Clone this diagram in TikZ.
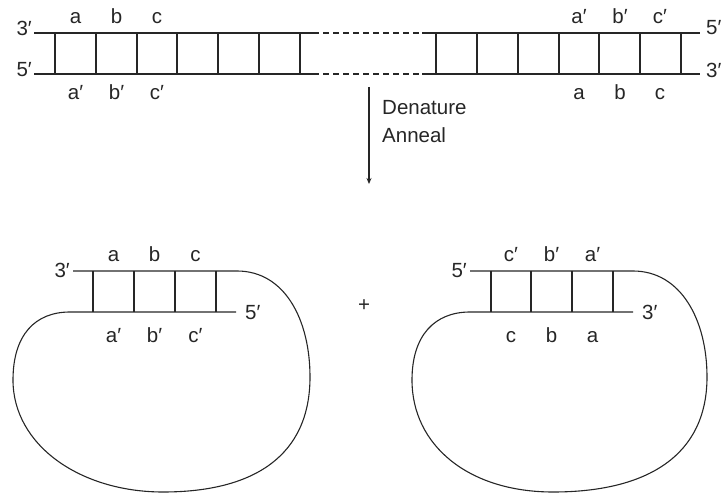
\documentclass[tikz,border=0pt]{standalone}
\usepackage{fontspec}
\setmainfont{Liberation Sans}
\usetikzlibrary{arrows.meta}
\begin{document}
\begin{tikzpicture}[x=1pt,y=-1pt,
  strand/.style={line width=1.1pt, draw=black!85},
  lbl/.style={font=\fontsize{20.5}{24}\selectfont, inner sep=0pt, text=black!85}]
\useasboundingbox (0,0) rectangle (723,494);
% ---------- top duplex ----------
\foreach \y in {33,74}{
  \draw[strand] (34,\y) -- (313,\y);
  \draw[strand, dash pattern=on 6pt off 4pt] (313,\y) -- (422,\y);
  \draw[strand] (422,\y) -- (700,\y);
}
\foreach \x in {55,96,137,177,218,259,300,436,477,518,559,599,640,681}
  \draw[strand] (\x,33) -- (\x,74);
\node[lbl, anchor=east] (t3) at (32,28) {3′};
\node[lbl, anchor=east] (t5) at (32,70) {5′};
\node[lbl, anchor=west] (r5) at (706,28) {5′};
\node[lbl, anchor=west] (r3) at (706,70) {3′};
\node[lbl, anchor=base] (ta) at (75.5,24) {a};
\node[lbl, anchor=base] (tb) at (116.5,24) {b};
\node[lbl, anchor=base] (tc) at (157,24) {c};
\node[lbl, anchor=base] (tap) at (75.5,100) {a′};
\node[lbl, anchor=base] (tbp) at (116.5,100) {b′};
\node[lbl, anchor=base] (tcp) at (157,100) {c′};
\node[lbl, anchor=base] (rap) at (579,24) {a′};
\node[lbl, anchor=base] (rbp) at (620,24) {b′};
\node[lbl, anchor=base] (rcp) at (660,24) {c′};
\node[lbl, anchor=base] (ra) at (579,100) {a};
\node[lbl, anchor=base] (rb) at (620,100) {b};
\node[lbl, anchor=base] (rc) at (660,100) {c};
% ---------- arrow ----------
\coordinate (arrS) at (369,87);
\coordinate (arrE) at (369,184);
\draw[line width=1.1pt, draw=black!85, -{Stealth[length=6pt,width=5pt]}] (arrS) -- (arrE);
\node[lbl, anchor=base west] (den) at (382,115) {Denature};
\node[lbl, anchor=base west] (ann) at (382,142.5) {Anneal};
% ---------- left hairpin ----------
\draw[strand] (73,271) -- (237,271)
  .. controls (285,271) and (310,320) .. (310,377)
  .. controls (310,455) and (255,492) .. (163,492)
  .. controls (80,492) and (13,445) .. (13,380)
  .. controls (13,335) and (35,312) .. (70,312) -- (236,312);
\foreach \x in {93,134,175,216}
  \draw[strand] (\x,271) -- (\x,312);
\node[lbl, anchor=east] (l3) at (70,270) {3′};
\node[lbl, anchor=west] (l5) at (245,313) {5′};
\node[lbl, anchor=base] (la) at (113.5,261.5) {a};
\node[lbl, anchor=base] (lb) at (154.5,261.5) {b};
\node[lbl, anchor=base] (lc) at (195.5,261.5) {c};
\node[lbl, anchor=base] (lap) at (113.5,342) {a′};
\node[lbl, anchor=base] (lbp) at (154.5,342) {b′};
\node[lbl, anchor=base] (lcp) at (195.5,342) {c′};
% ---------- plus ----------
\node[lbl] (plus) at (364,306) {+};
% ---------- right hairpin ----------
\begin{scope}[xshift=398pt]
\draw[strand] (72,271) -- (235,271)
  .. controls (283,271) and (309,320) .. (309,377)
  .. controls (309,455) and (250,492) .. (155,492)
  .. controls (70,492) and (14,445) .. (14,380)
  .. controls (14,335) and (37,312) .. (72,312) -- (235,312);
\foreach \x in {93,133,174,215}
  \draw[strand] (\x,271) -- (\x,312);
\end{scope}
\node[lbl, anchor=east] (m5) at (467,271) {5′};
\node[lbl, anchor=west] (m3) at (642,312) {3′};
\node[lbl, anchor=base] (mcp) at (511,261.5) {c′};
\node[lbl, anchor=base] (mbp) at (551.5,261.5) {b′};
\node[lbl, anchor=base] (map) at (592.5,261.5) {a′};
\node[lbl, anchor=base] (mc) at (511,342) {c};
\node[lbl, anchor=base] (mb) at (551.5,342) {b};
\node[lbl, anchor=base] (ma) at (592.5,342) {a};
\end{tikzpicture}
\end{document}
